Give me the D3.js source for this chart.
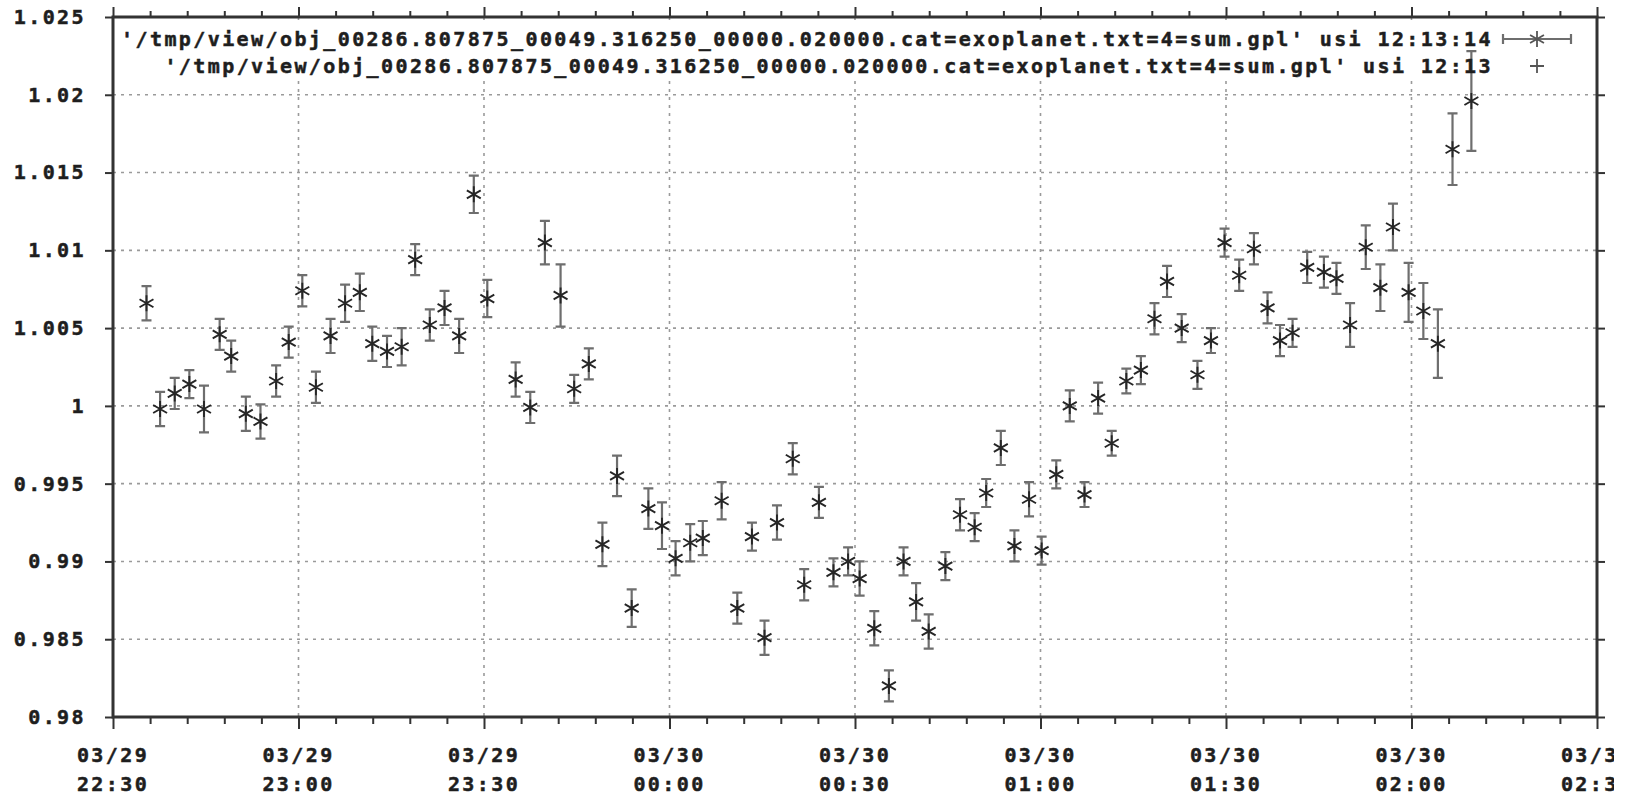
<!DOCTYPE html>
<html>
<head>
<meta charset="utf-8">
<script src="https://cdn.jsdelivr.net/npm/d3@7"></script>
<style>
  body { margin: 0; background: #fff; overflow: hidden; }
  svg { display: block; }
  text { font-family: "DejaVu Sans Mono", "Liberation Mono", monospace; font-weight: bold; fill: #1e1e1e;
         stroke: #1e1e1e; stroke-width: 0.5px; }
</style>
</head>
<body>
<svg id="chart"></svg>
<script>
// observation times (03/29 -> 03/30), relative flux and its error
const times = [
  '03/29 22:35:25', '03/29 22:37:37', '03/29 22:39:59', '03/29 22:42:21', '03/29 22:44:43',
  '03/29 22:47:15', '03/29 22:49:07', '03/29 22:51:29', '03/29 22:53:51', '03/29 22:56:23',
  '03/29 22:58:25', '03/29 23:00:37', '03/29 23:02:49', '03/29 23:05:11', '03/29 23:07:32',
  '03/29 23:09:55', '03/29 23:11:56', '03/29 23:14:19', '03/29 23:16:41', '03/29 23:18:52',
  '03/29 23:21:14', '03/29 23:23:37', '03/29 23:25:59', '03/29 23:28:21', '03/29 23:30:32',
  '03/29 23:35:07', '03/29 23:37:29', '03/29 23:39:51', '03/29 23:42:23', '03/29 23:44:35',
  '03/29 23:46:57', '03/29 23:49:09', '03/29 23:51:31', '03/29 23:53:53', '03/29 23:56:35',
  '03/29 23:58:47', '03/30 00:00:59', '03/30 00:03:21', '03/30 00:05:23', '03/30 00:08:26',
  '03/30 00:10:58', '03/30 00:13:20', '03/30 00:15:22', '03/30 00:17:23', '03/30 00:19:56',
  '03/30 00:21:47', '03/30 00:24:10', '03/30 00:26:31', '03/30 00:28:53', '03/30 00:30:45',
  '03/30 00:33:07', '03/30 00:35:29', '03/30 00:37:51', '03/30 00:39:53', '03/30 00:41:55',
  '03/30 00:44:37', '03/30 00:46:59', '03/30 00:49:21', '03/30 00:51:13', '03/30 00:53:35',
  '03/30 00:55:47', '03/30 00:58:09', '03/30 01:00:11', '03/30 01:02:33', '03/30 01:04:44',
  '03/30 01:07:07', '03/30 01:09:19', '03/30 01:11:31', '03/30 01:13:53', '03/30 01:16:14',
  '03/30 01:18:26', '03/30 01:20:28', '03/30 01:22:50', '03/30 01:25:23', '03/30 01:27:34',
  '03/30 01:29:46', '03/30 01:32:08', '03/30 01:34:31', '03/30 01:36:43', '03/30 01:38:44',
  '03/30 01:40:46', '03/30 01:43:08', '03/30 01:45:50', '03/30 01:47:52', '03/30 01:50:04',
  '03/30 01:52:36', '03/30 01:54:58', '03/30 01:57:00', '03/30 01:59:32', '03/30 02:01:55',
  '03/30 02:04:16', '03/30 02:06:38', '03/30 02:09:41'
];
const flux = [
  1.0066, 0.9998, 1.0008, 1.0014, 0.9998, 1.0046, 1.0032, 0.9995, 0.9990, 1.0016,
  1.0041, 1.0074, 1.0012, 1.0045, 1.0066, 1.0073, 1.0040, 1.0035, 1.0038, 1.0094,
  1.0052, 1.0063, 1.0045, 1.0136, 1.0069, 1.0017, 0.9999, 1.0105, 1.0071, 1.0011,
  1.0027, 0.9911, 0.9955, 0.9870, 0.9934, 0.9923, 0.9902, 0.9912, 0.9915, 0.9939,
  0.9870, 0.9916, 0.9851, 0.9925, 0.9966, 0.9885, 0.9938, 0.9893, 0.9900, 0.9889,
  0.9857, 0.9820, 0.9900, 0.9874, 0.9855, 0.9897, 0.9930, 0.9922, 0.9944, 0.9973,
  0.9910, 0.9940, 0.9907, 0.9956, 1.0000, 0.9943, 1.0005, 0.9976, 1.0016, 1.0023,
  1.0056, 1.0080, 1.0050, 1.0020, 1.0042, 1.0105, 1.0084, 1.0101, 1.0063, 1.0042,
  1.0047, 1.0089, 1.0086, 1.0082, 1.0052, 1.0102, 1.0076, 1.0115, 1.0073, 1.0061,
  1.0040, 1.0165, 1.0196
];
const fluxErr = [
  0.0011, 0.0011, 0.0010, 0.0009, 0.0015, 0.0010, 0.0010, 0.0011, 0.0011, 0.0010,
  0.0010, 0.0010, 0.0010, 0.0011, 0.0012, 0.0012, 0.0011, 0.0010, 0.0012, 0.0010,
  0.0010, 0.0011, 0.0011, 0.0012, 0.0012, 0.0011, 0.0010, 0.0014, 0.0020, 0.0009,
  0.0010, 0.0014, 0.0013, 0.0012, 0.0013, 0.0015, 0.0011, 0.0012, 0.0011, 0.0012,
  0.0010, 0.0009, 0.0011, 0.0011, 0.0010, 0.0010, 0.0010, 0.0009, 0.0009, 0.0011,
  0.0011, 0.0010, 0.0009, 0.0012, 0.0011, 0.0009, 0.0010, 0.0009, 0.0009, 0.0011,
  0.0010, 0.0011, 0.0009, 0.0009, 0.0010, 0.0008, 0.0010, 0.0008, 0.0008, 0.0009,
  0.0010, 0.0010, 0.0009, 0.0009, 0.0008, 0.0009, 0.0010, 0.0010, 0.0010, 0.0010,
  0.0009, 0.0010, 0.0010, 0.0010, 0.0014, 0.0014, 0.0015, 0.0015, 0.0019, 0.0018,
  0.0022, 0.0023, 0.0032
];
const yTicks = [0.98, 0.985, 0.99, 0.995, 1, 1.005, 1.01, 1.015, 1.02, 1.025];
const xRange = ['03/29 22:30:00', '03/30 02:30:00'];
const legendLabels = [
  "'/tmp/view/obj_00286.807875_00049.316250_00000.020000.cat=exoplanet.txt=4=sum.gpl' usi 12:13:14",
  "'/tmp/view/obj_00286.807875_00049.316250_00000.020000.cat=exoplanet.txt=4=sum.gpl' usi 12:13"
];

const W = 1639, H = 796;
const m = { left: 113, right: 1597, top: 17, bottom: 717 };
const parse = d3.timeParse('%m/%d %H:%M:%S');
const data = times.map((t, i) => ({ t: parse(t), v: flux[i], e: fluxErr[i] }));

const svg = d3.select('#chart').attr('width', W).attr('height', H);

// the original picture is cut off just right of the last time label
svg.append('clipPath').attr('id', 'cut').append('rect')
  .attr('x', 0).attr('y', 0).attr('width', 1614).attr('height', H);

const x = d3.scaleTime().domain(xRange.map(parse)).range([m.left, m.right]);
const y = d3.scaleLinear().domain([0.98, 1.025]).range([m.bottom, m.top]);

const majorX = x.ticks(d3.timeMinute.every(30));
const minorX = x.ticks(d3.timeMinute.every(6));
const fmtDay = d3.timeFormat('%m/%d'), fmtHM = d3.timeFormat('%H:%M');

// grid
const grid = svg.append('g').attr('stroke', '#9a9a9a').attr('stroke-width', 1.6)
  .attr('stroke-dasharray', '3,5');
grid.selectAll('.gy').data(yTicks.slice(1, -1)).enter().append('line')
  .attr('x1', m.left).attr('x2', m.right)
  .attr('y1', d => y(d)).attr('y2', d => y(d));
grid.selectAll('.gx').data(majorX.slice(1, -1)).enter().append('line')
  .attr('x1', d => x(d)).attr('x2', d => x(d))
  .attr('y1', m.top).attr('y2', m.bottom);

// key background hides the grid behind the legend
svg.append('rect').attr('x', m.left + 3).attr('y', m.top + 3)
  .attr('width', m.right - m.left - 6).attr('height', 58).attr('fill', '#fff');

// axes
const axisBottom = svg.append('g').attr('transform', `translate(0,${m.bottom})`)
  .call(d3.axisBottom(x).tickValues(minorX).tickSize(6).tickFormat(''));
axisBottom.selectAll('.tick line').attr('stroke', '#333').attr('stroke-width', 2)
  .attr('y2', d => majorX.some(t => +t === +d) ? 12 : 7);
axisBottom.select('.domain').remove();

const axisTop = svg.append('g').attr('transform', `translate(0,${m.top})`)
  .call(d3.axisTop(x).tickValues(minorX).tickSize(6).tickFormat(''));
axisTop.selectAll('.tick line').attr('stroke', '#333').attr('stroke-width', 2)
  .attr('y2', d => majorX.some(t => +t === +d) ? -10 : -6);
axisTop.select('.domain').remove();

const labels = svg.append('g').attr('clip-path', 'url(#cut)')
  .selectAll('text').data(majorX).enter().append('text')
  .attr('x', d => x(d)).attr('y', 762).attr('text-anchor', 'middle')
  .attr('font-size', 20).attr('letter-spacing', 2.4);
labels.append('tspan').attr('x', d => x(d)).text(d => fmtDay(d));
labels.append('tspan').attr('x', d => x(d)).attr('dy', 29).text(d => fmtHM(d));

const axisLeft = svg.append('g').attr('transform', `translate(${m.left},0)`)
  .call(d3.axisLeft(y).tickValues(yTicks).tickSize(8).tickPadding(19).tickFormat(d3.format('~g')));
axisLeft.select('.domain').remove();
axisLeft.selectAll('.tick line').attr('stroke', '#333').attr('stroke-width', 2);
axisLeft.selectAll('.tick text').attr('font-size', 20).attr('letter-spacing', 2.4)
  .attr('font-family', '"DejaVu Sans Mono", monospace').attr('fill', '#1e1e1e');

const axisRight = svg.append('g').attr('transform', `translate(${m.right},0)`)
  .call(d3.axisRight(y).tickValues(yTicks).tickSize(8).tickFormat(''));
axisRight.select('.domain').remove();
axisRight.selectAll('.tick line').attr('stroke', '#333').attr('stroke-width', 2);

svg.append('rect').attr('x', m.left).attr('y', m.top)
  .attr('width', m.right - m.left).attr('height', m.bottom - m.top)
  .attr('fill', 'none').attr('stroke', '#333').attr('stroke-width', 3);

// error bars
const cap = 5;
const bars = svg.append('g').attr('stroke', '#6e6e6e').attr('stroke-width', 2.2);
bars.selectAll('.eb').data(data).enter().append('path')
  .attr('d', d => {
    const cx = x(d.t), y0 = y(d.v - d.e), y1 = y(d.v + d.e);
    return `M${cx},${y0}V${y1}M${cx - cap},${y0}H${cx + cap}M${cx - cap},${y1}H${cx + cap}`;
  })
  .attr('fill', 'none');

// asterisk markers
function star(cx, cy, r) {
  const dx = r * 0.87, dy = r * 0.5;
  return `M${cx},${cy - r}V${cy + r}M${cx - dx},${cy - dy}L${cx + dx},${cy + dy}M${cx - dx},${cy + dy}L${cx + dx},${cy - dy}`;
}
svg.append('g').attr('stroke', '#262626').attr('stroke-width', 1.9).attr('fill', 'none')
  .selectAll('path').data(data).enter().append('path')
  .attr('d', d => star(x(d.t), y(d.v), 8));

// legend
const keyX = 1493;
const key = svg.append('g');
key.selectAll('text').data(legendLabels).enter().append('text')
  .attr('x', keyX).attr('y', (d, i) => 46 + i * 27)
  .attr('text-anchor', 'end').attr('font-size', 20).attr('letter-spacing', 2.4)
  .text(d => d);
const ky = 39;
key.append('path').attr('stroke', '#6e6e6e').attr('stroke-width', 2.2).attr('fill', 'none')
  .attr('d', `M1503,${ky}H1571M1503,${ky - 5}V${ky + 5}M1571,${ky - 5}V${ky + 5}`);
key.append('path').attr('stroke', '#555').attr('stroke-width', 1.8).attr('fill', 'none')
  .attr('d', star(1537, ky, 8));
key.append('path').attr('stroke', '#555').attr('stroke-width', 1.8).attr('fill', 'none')
  .attr('d', 'M1530,66H1544M1537,59V73');
</script>
</body>
</html>
